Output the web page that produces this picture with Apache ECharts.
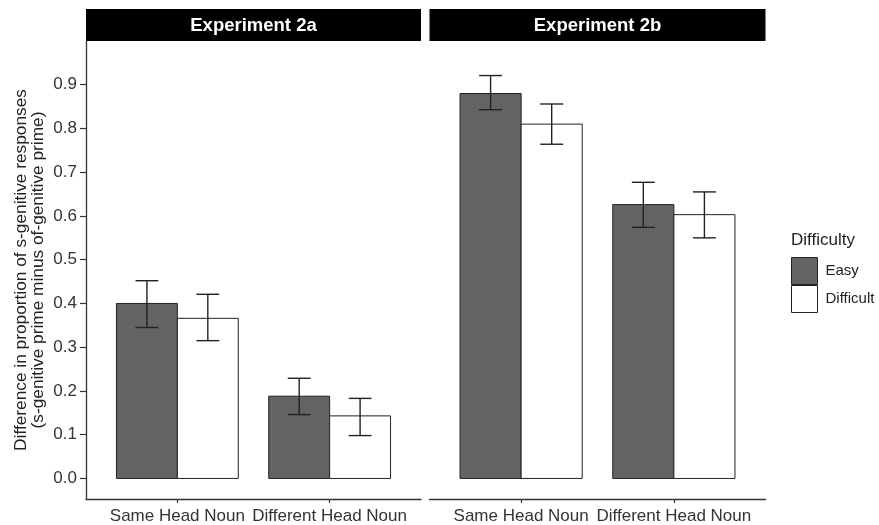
<!DOCTYPE html>
<html>
<head>
<meta charset="utf-8">
<script src="https://cdn.jsdelivr.net/npm/echarts@6/dist/echarts.min.js"></script>
<style>
html,body{margin:0;padding:0;background:#fff;}
#chart{width:879px;height:525px;}
</style>
</head>
<body>
<div id="chart"></div>
<script>
// ---- data ----
var categories = ['Same Head Noun', 'Different Head Noun'];
var panels = ['Experiment 2a', 'Experiment 2b'];
var difficulties = ['Easy', 'Difficult'];
var yTicks = [0, 0.1, 0.2, 0.3, 0.4, 0.5, 0.6, 0.7, 0.8, 0.9];

var easy2a = [0.400, 0.188];
var easyLo2a = [0.345, 0.146];
var easyHi2a = [0.452, 0.229];
var diff2a = [0.366, 0.143];
var diffLo2a = [0.315, 0.098];
var diffHi2a = [0.421, 0.183];

var easy2b = [0.880, 0.626];
var easyLo2b = [0.843, 0.574];
var easyHi2b = [0.921, 0.677];
var diff2b = [0.810, 0.603];
var diffLo2b = [0.764, 0.550];
var diffHi2b = [0.856, 0.655];

// ---- layout / style ----
var FONT = '"Liberation Sans", Arial, sans-serif';
var GRIDS = [{left: 86, width: 335}, {left: 429.5, width: 336}];
var TOP = 41, BOTTOM_Y = 499, H = 525, STRIP_H = 32;
var FILL = {Easy: '#636363', Difficult: '#ffffff'};
var BAR_HALF = 0.4;   // bar width in category units
var CAP = 0.075;

function rows(vals, lo, hi) {
  return vals.map(function (v, i) { return [i + 1, v, lo[i], hi[i]]; });
}

function makeRender(offset, fill) {
  return function (params, api) {
    var c = api.value(0), v = api.value(1), lo = api.value(2), hi = api.value(3);
    var cx = c + offset;
    var p0 = api.coord([cx - BAR_HALF / 2, v]);
    var p1 = api.coord([cx + BAR_HALF / 2, 0]);
    var et = api.coord([cx, hi]);
    var eb = api.coord([cx, lo]);
    var cl = api.coord([cx - CAP, hi])[0];
    var cr = api.coord([cx + CAP, hi])[0];
    var ls = {stroke: '#222', lineWidth: 1.4};
    return {
      type: 'group',
      children: [
        {type: 'rect', shape: {x: p0[0], y: p0[1], width: p1[0] - p0[0], height: p1[1] - p0[1]},
         style: {fill: fill, stroke: '#222', lineWidth: 1}},
        {type: 'line', shape: {x1: et[0], y1: et[1], x2: eb[0], y2: eb[1]}, style: ls},
        {type: 'line', shape: {x1: cl, y1: et[1], x2: cr, y2: et[1]}, style: ls},
        {type: 'line', shape: {x1: cl, y1: eb[1], x2: cr, y2: eb[1]}, style: ls}
      ]
    };
  };
}

var series = [];
var panelData = [
  [rows(easy2a, easyLo2a, easyHi2a), rows(diff2a, diffLo2a, diffHi2a)],
  [rows(easy2b, easyLo2b, easyHi2b), rows(diff2b, diffLo2b, diffHi2b)]
];
panelData.forEach(function (pd, pi) {
  difficulties.forEach(function (d, di) {
    series.push({
      type: 'custom',
      name: d,
      xAxisIndex: pi,
      yAxisIndex: pi,
      itemStyle: {color: FILL[d], borderColor: '#222', borderWidth: 1},
      renderItem: makeRender(di === 0 ? -0.2 : 0.2, FILL[d]),
      encode: {x: 0, y: [1, 2, 3]},
      data: pd[di],
      silent: true,
      animation: false
    });
  });
});

var grids = GRIDS.map(function (g) {
  return {left: g.left, width: g.width, top: TOP, bottom: H - BOTTOM_Y, containLabel: false};
});

var xAxes = GRIDS.map(function (g, i) {
  return {
    type: 'value', gridIndex: i, min: 0.4, max: 2.6,
    splitLine: {show: false},
    axisLine: {show: true, onZero: false, lineStyle: {color: '#333', width: 1.3}},
    axisTick: {show: true, length: 4, customValues: [1, 2], lineStyle: {color: '#333', width: 1.2}},
    axisLabel: {customValues: [1, 2], margin: 9, fontFamily: FONT, fontSize: 17, color: '#333',
      formatter: function (v) { return categories[Math.round(v) - 1]; }}
  };
});

var yAxes = [
  {
    type: 'value', gridIndex: 0, min: -0.047, max: 1.0,
    splitLine: {show: false},
    axisLine: {show: true, lineStyle: {color: '#333', width: 1.3}},
    axisTick: {show: true, length: 6, customValues: yTicks, lineStyle: {color: '#333', width: 1.2}},
    axisLabel: {customValues: yTicks, margin: 9, fontFamily: FONT, fontSize: 17, color: '#333',
      formatter: function (v) { return v.toFixed(1); }},
    name: 'Difference in proportion of s-genitive responses\n(s-genitive prime minus of-genitive prime)',
    nameLocation: 'middle', nameRotate: 90, nameGap: 40,
    nameTextStyle: {fontFamily: FONT, fontSize: 17.3, color: '#222', lineHeight: 16.5}
  },
  {
    type: 'value', gridIndex: 1, min: -0.047, max: 1.0,
    splitLine: {show: false}, axisLine: {show: false}, axisTick: {show: false}, axisLabel: {show: false}
  }
];

var graphics = [];
GRIDS.forEach(function (g, i) {
  graphics.push({type: 'rect', silent: true,
    shape: {x: g.left, y: TOP - STRIP_H, width: g.width, height: STRIP_H},
    style: {fill: '#000'}});
  graphics.push({type: 'text', silent: true, x: g.left + g.width / 2, y: TOP - STRIP_H / 2 + 1,
    style: {text: panels[i], fill: '#fff', font: 'bold 18.5px ' + FONT, textAlign: 'center', textVerticalAlign: 'middle'}});
});

var chart = echarts.init(document.getElementById('chart'), null, {renderer: 'canvas'});
chart.setOption({
  backgroundColor: '#fff',
  animation: false,
  title: {text: 'Difficulty', left: 791, top: 232, padding: 0,
    textStyle: {fontFamily: FONT, fontSize: 17, fontWeight: 'normal', color: '#222'}},
  legend: {
    orient: 'vertical', left: 791, top: 257, padding: 0,
    itemWidth: 26, itemHeight: 27, itemGap: 0, selectedMode: false,
    textStyle: {fontFamily: FONT, fontSize: 15, color: '#222', padding: [0, 0, 0, 3]},
    data: difficulties.map(function (d) {
      return {name: d, icon: 'rect', itemStyle: {color: FILL[d], borderColor: '#222', borderWidth: 1}};
    })
  },
  grid: grids,
  xAxis: xAxes,
  yAxis: yAxes,
  graphic: graphics,
  series: series
});
</script>
</body>
</html>
